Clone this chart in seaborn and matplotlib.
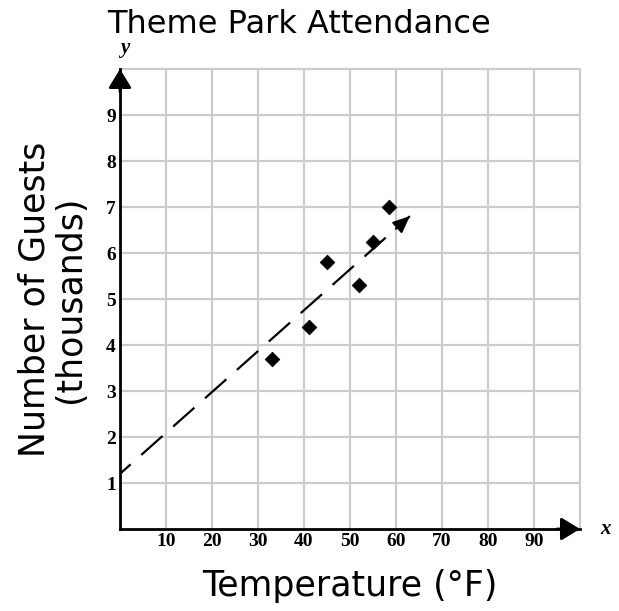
import numpy as np
import pandas as pd
import seaborn as sns
import matplotlib.pyplot as plt

# scatter data
temperature = [33, 41, 45, 52, 55, 58.5]
guests = [3.7, 4.4, 5.8, 5.3, 6.25, 7.0]

# dashed trend line (start and arrow tip)
trend_x = [0, 63]
trend_y = [1.2, 6.8]

x_ticks = list(range(10, 100, 10))
y_ticks = list(range(1, 10))

sns.set_theme(style="white")
plt.rcParams['font.family'] = ['DejaVu Sans']
plt.rcParams['text.color'] = 'black'
plt.rcParams['axes.labelcolor'] = 'black'
plt.rcParams['xtick.color'] = 'black'
plt.rcParams['ytick.color'] = 'black'

fig = plt.figure(figsize=(6.19, 6.11), dpi=100)
ax = fig.add_axes([120/619, 82/611, 460/619, 460/611])

df = pd.DataFrame({"temp": temperature, "guests": guests})
trend = pd.DataFrame({"x": trend_x, "y": trend_y})

# grid
for gx in range(10, 101, 10):
    ax.axvline(gx, color="#cccccc", lw=1.6, zorder=0, clip_on=False)
for gy in range(1, 11):
    ax.axhline(gy, color="#cccccc", lw=1.6, zorder=0, clip_on=False)

sns.lineplot(data=trend, x="x", y="y", ax=ax, color="black", lw=1.6, zorder=3)
ax.lines[-1].set_linestyle((6.4, (12.8, 6.4)))
ax.annotate("", xy=(trend_x[1], trend_y[1]), xytext=(trend_x[1] - 3, trend_y[1] - 0.27),
            arrowprops=dict(arrowstyle="-|>,head_length=0.5,head_width=0.22",
                            color="black", lw=1.6, mutation_scale=20,
                            shrinkA=0, shrinkB=0), zorder=4)

sns.scatterplot(data=df, x="temp", y="guests", ax=ax, marker="D", s=55,
                color="black", edgecolor="black", zorder=5)

ax.set_xlim(0, 100)
ax.set_ylim(0, 10)

for side in ["top", "right"]:
    ax.spines[side].set_visible(False)
for side in ["left", "bottom"]:
    ax.spines[side].set_color("black")
    ax.spines[side].set_linewidth(2)

# axis arrows
head = "-|>,head_length=0.82,head_width=0.5"
ax.annotate("", xy=(1, 0), xytext=(0.95, 0), xycoords="axes fraction",
            arrowprops=dict(arrowstyle=head, color="black", lw=2, mutation_scale=14,
                            shrinkA=0, shrinkB=0), annotation_clip=False)
ax.annotate("", xy=(0, 1), xytext=(0, 0.95), xycoords="axes fraction",
            arrowprops=dict(arrowstyle=head, color="black", lw=2, mutation_scale=14,
                            shrinkA=0, shrinkB=0), annotation_clip=False)
ax.text(1.055, 0, "x", transform=ax.transAxes, ha="center", va="center",
        fontsize=15, fontstyle="italic", fontweight="bold", family="Liberation Serif")
ax.text(0.01, 1.045, "y", transform=ax.transAxes, ha="center", va="center",
        fontsize=15, fontstyle="italic", fontweight="bold", family="Liberation Serif")

ax.set_xticks(x_ticks)
ax.set_xticklabels([str(t) for t in x_ticks], family="Liberation Serif",
                   fontweight="bold", fontsize=14)
ax.set_yticks(y_ticks)
ax.set_yticklabels([str(t) for t in y_ticks], family="Liberation Serif",
                   fontweight="bold", fontsize=14)
ax.tick_params(axis="both", length=0, pad=3)

ax.set_xlabel("Temperature (°F)", fontsize=25, labelpad=13.5)
ax.set_ylabel("Number of Guests\n(thousands)", fontsize=25, labelpad=14,
              linespacing=1.05)
ax.set_title("Theme Park Attendance", fontsize=23, pad=26, x=0.39)

fig.savefig("out.png", dpi=100)
